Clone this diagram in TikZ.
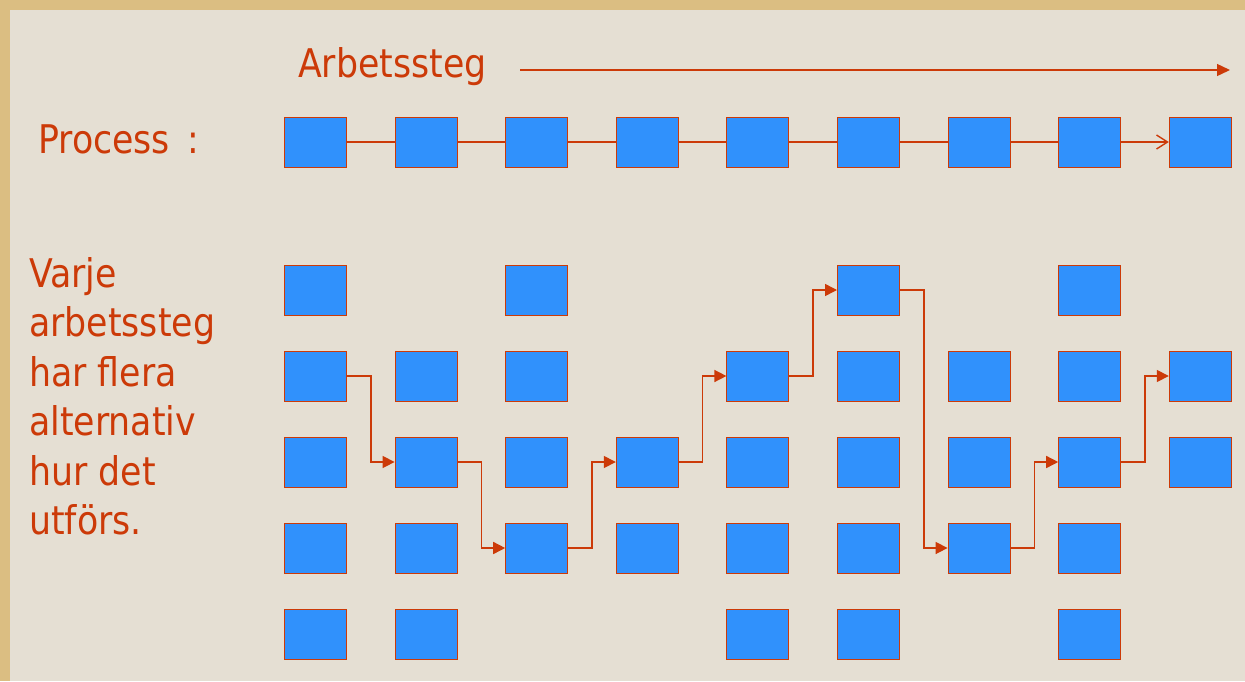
\documentclass[tikz,border=0pt]{standalone}
\usepackage{fontspec}
\setmainfont{DejaVu Sans}[FakeStretch=0.88]
\usetikzlibrary{arrows.meta,positioning,calc}
\definecolor{frameGold}{RGB}{219,190,130}
\definecolor{paper}{RGB}{229,223,211}
\definecolor{rust}{RGB}{204,58,8}
\definecolor{stepBlue}{RGB}{48,145,252}
\tikzset{
  stepbox/.style={draw=rust, line width=1pt, fill=stepBlue,
    minimum width=62pt, minimum height=50pt, inner sep=0pt},
  slidetxt/.style={rust, inner sep=0pt, font=\fontsize{39.5}{49.5}\selectfont},
  flowln/.style={rust, line width=1.4pt},
  pickln/.style={rust, line width=1.5pt, -{Triangle[length=12pt,width=12pt]}},
}
\newcommand{\pick}[2]{%
  \draw[pickln] (#1.east) -| ($(#1.east)!.5!(#2.west)$) |- (#2.west);
}

\begin{document}
\begin{tikzpicture}[x=1pt,y=-1pt]
    \useasboundingbox (0,0) rectangle (1245,681);
    % gold frame and the paper
    \fill[frameGold] (0,0) rectangle (1245,681);
    \fill[paper] (10,10) rectangle (1245,681);
    % heading with the direction of the work steps
    \node[slidetxt, anchor=base west] (steg) at (298,77) {Arbetssteg};
    \coordinate (stegstart) at (520,70);
    \coordinate (stegend) at (1230,70);
    \draw[rust, line width=1.4pt, -{Triangle[length=13pt,width=12pt]}] (stegstart) -- (stegend);
    % the process as one chain of steps
    \node[slidetxt, anchor=base west] (proc) at (38,153) {Process \,:};
    \foreach \c in {1,...,9}
      \node[stepbox] (p\c) at ({315.5+110.6*(\c-1)},142) {};
    \foreach \c [count=\n from 2] in {1,...,7}
      \draw[flowln] (p\c.east) -- (p\n.west);
    \draw[flowln, -{Straight Barb[length=11pt,width=14pt]}] (p8.east) -- (p9.west);
    % alternatives for every step
    \node[slidetxt, anchor=north west, align=left] (alt) at (29,257)
      {Varje\\arbetssteg\\har flera\\alternativ\\hur det\\utförs.};
    \foreach \c/\rows in {1/{1,2,3,4,5}, 2/{2,3,4,5}, 3/{1,2,3,4}, 4/{3,4},
                          5/{2,3,4,5}, 6/{1,2,3,4,5}, 7/{2,3,4}, 8/{1,2,3,4,5}, 9/{2,3}}
      \foreach \r in \rows
        \node[stepbox] (g\c-\r) at ({315.5+110.6*(\c-1)},{290+86*(\r-1)}) {};
    % the chosen alternative in each step
    \foreach \a/\b in {g1-2/g2-3, g2-3/g3-4, g3-4/g4-3, g4-3/g5-2,
                       g5-2/g6-1, g6-1/g7-4, g7-4/g8-3, g8-3/g9-2}
      {\pick{\a}{\b}}
  \end{tikzpicture}
\end{document}
